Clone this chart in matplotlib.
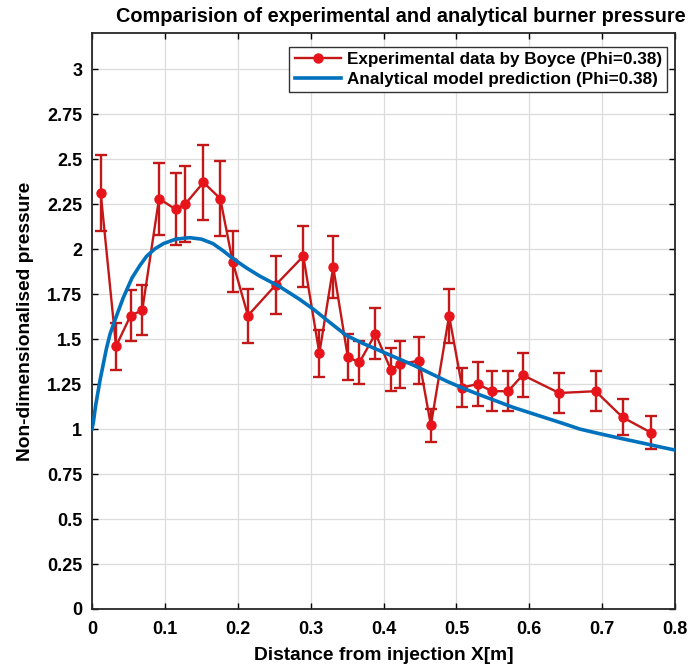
import matplotlib
matplotlib.use("Agg")
import matplotlib.pyplot as plt
from matplotlib.lines import Line2D
import numpy as np

plt.rcParams['font.family'] = ['Liberation Sans', 'DejaVu Sans']
plt.rcParams['font.weight'] = 'bold'

# Experimental data (Boyce, Phi=0.38)
exp_x = [0.012, 0.033, 0.053, 0.069, 0.092, 0.115, 0.128, 0.153, 0.176, 0.193,
         0.214, 0.252, 0.290, 0.312, 0.331, 0.351, 0.367, 0.389, 0.410, 0.423,
         0.449, 0.465, 0.490, 0.508, 0.529, 0.549, 0.571, 0.591, 0.641, 0.691,
         0.728, 0.767]
exp_y = [2.31, 1.46, 1.63, 1.66, 2.28, 2.22, 2.25, 2.37, 2.28, 1.93,
         1.63, 1.80, 1.96, 1.42, 1.90, 1.40, 1.37, 1.53, 1.33, 1.36,
         1.38, 1.02, 1.63, 1.23, 1.25, 1.21, 1.21, 1.30, 1.20, 1.21,
         1.065, 0.98]
exp_err = [0.21, 0.13, 0.14, 0.14, 0.20, 0.20, 0.21, 0.21, 0.21, 0.17,
           0.15, 0.16, 0.17, 0.13, 0.17, 0.13, 0.12, 0.14, 0.12, 0.13,
           0.13, 0.09, 0.15, 0.11, 0.12, 0.11, 0.11, 0.12, 0.11, 0.11,
           0.10, 0.09]

# Analytical model prediction
mod_x = [0.0, 0.002, 0.005, 0.011, 0.020, 0.025, 0.032, 0.043, 0.055, 0.066,
         0.075, 0.086, 0.098, 0.115, 0.134, 0.150, 0.166, 0.180, 0.194, 0.212,
         0.230, 0.258, 0.285, 0.304, 0.327, 0.349, 0.372, 0.395, 0.418, 0.441,
         0.464, 0.487, 0.510, 0.532, 0.555, 0.578, 0.601, 0.624, 0.647, 0.669,
         0.692, 0.715, 0.738, 0.761, 0.780, 0.800]
mod_y = [1.00, 1.04, 1.13, 1.27, 1.45, 1.53, 1.61, 1.73, 1.84, 1.91,
         1.96, 2.00, 2.03, 2.055, 2.063, 2.055, 2.03, 1.99, 1.945, 1.895,
         1.85, 1.79, 1.72, 1.665, 1.59, 1.52, 1.475, 1.435, 1.395, 1.355,
         1.31, 1.265, 1.225, 1.19, 1.155, 1.12, 1.09, 1.06, 1.03, 1.00,
         0.978, 0.957, 0.937, 0.917, 0.90, 0.883]

xticks = [0, 0.1, 0.2, 0.3, 0.4, 0.5, 0.6, 0.7, 0.8]
xticklabels = ['0', '0.1', '0.2', '0.3', '0.4', '0.5', '0.6', '0.7', '0.8']
yticks = [0, 0.25, 0.5, 0.75, 1, 1.25, 1.5, 1.75, 2, 2.25, 2.5, 2.75, 3]
yticklabels = ['0', '0.25', '0.5', '0.75', '1', '1.25', '1.5', '1.75', '2',
               '2.25', '2.5', '2.75', '3']

exp_label = 'Experimental data by Boyce (Phi=0.38)'
mod_label = 'Analytical model prediction (Phi=0.38)'

fig = plt.figure(figsize=(6.91, 6.71), dpi=100)
ax = fig.add_axes([0.1331, 0.0924, 0.8438, 0.8584])

red_line = '#C41818'
red_mark = '#E8141B'
blue = '#0072BD'

ax.errorbar(exp_x, exp_y, yerr=exp_err, color=red_line, lw=1.7,
            marker='o', ms=6.5, mfc=red_mark, mec=red_mark,
            ecolor=red_line, elinewidth=1.7, capsize=4.3, capthick=1.7,
            zorder=3)
ax.plot(mod_x, mod_y, color=blue, lw=2.6, zorder=4)

ax.set_xlim(0, 0.8)
ax.set_ylim(0, 3.2)
ax.set_xticks(xticks)
ax.set_xticklabels(xticklabels)
ax.set_yticks(yticks)
ax.set_yticklabels(yticklabels)
ax.tick_params(direction='in', top=True, right=True, length=4, width=1,
               labelsize=13)
ax.tick_params(axis='x', pad=9)
ax.tick_params(axis='y', pad=7)
for lab in ax.get_xticklabels() + ax.get_yticklabels():
    lab.set_fontweight('bold')
ax.grid(True, color='#DCDCDC', lw=0.9)
ax.set_axisbelow(True)
for s in ax.spines.values():
    s.set_linewidth(1.3)
    s.set_color('#262626')

ax.set_title('Comparision of experimental and analytical burner pressure',
             fontsize=14.3, fontweight='bold', pad=8, x=0.53)
ax.set_xlabel('Distance from injection X[m]', fontsize=13.8, fontweight='bold',
              labelpad=6)
ax.set_ylabel('Non-dimensionalised pressure', fontsize=13.8, fontweight='bold',
              labelpad=9)

handles = [Line2D([], [], color=red_line, lw=1.7, marker='o', ms=6.5,
                  mfc=red_mark, mec=red_mark),
           Line2D([], [], color=blue, lw=2.6)]
leg = ax.legend(handles, [exp_label, mod_label], loc='upper right',
                bbox_to_anchor=(0.986, 0.9757),
                borderaxespad=0, fancybox=False, framealpha=1,
                edgecolor='#333333', fontsize=12.3, handlelength=2.75,
                handletextpad=0.3, borderpad=0.3, labelspacing=0.3)
leg.get_frame().set_linewidth(1.0)
for t in leg.get_texts():
    t.set_fontweight('bold')

fig.savefig('out.png', dpi=100)
